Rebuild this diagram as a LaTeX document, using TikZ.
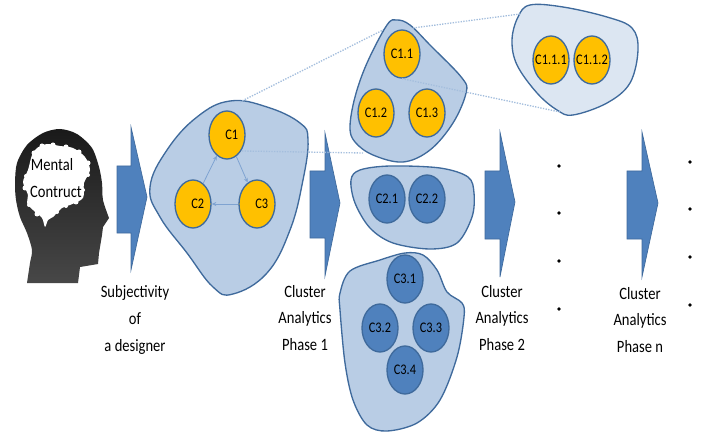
\documentclass[tikz,border=0pt]{standalone}
\usepackage{fontspec}
\setmainfont[FakeStretch=.84]{Carlito}
\usetikzlibrary{shapes.geometric,arrows.meta}
\definecolor{blobfill}{HTML}{B9CDE5}
\definecolor{blobpale}{HTML}{DCE6F2}
\definecolor{edgecol}{HTML}{3F6A9C}
\definecolor{steel}{HTML}{4F81BD}
\definecolor{amber}{HTML}{FFC000}
\definecolor{relcol}{HTML}{7FA3D1}
\definecolor{tiecol}{HTML}{A4BEDD}
\newcommand{\ct}[1]{\makebox[0pt]{#1}}
\newcommand{\cs}[1]{\makebox[0pt]{\hspace{7pt}\raisebox{-2pt}{#1}}}
\tikzset{
  blob/.style={draw=edgecol,line width=1pt,fill=blobfill},
  paleblob/.style={blob,fill=blobpale},
  gold/.style={ellipse,draw=edgecol,line width=1pt,fill=amber,minimum width=27pt,minimum height=36pt,inner sep=0pt,font=\fontsize{11}{12}\selectfont},
  deep/.style={gold,fill=steel},
  bigarrow/.style={fill=steel,draw=edgecol,line width=.5pt},
  tie/.style={draw=tiecol,line width=1pt,densely dotted},
  rel/.style={draw=relcol,line width=.6pt,-{Stealth[length=3.5pt,width=3pt]}},
  lab/.style={align=center,inner sep=0pt,font=\fontsize{13}{20}\selectfont},
  dot/.style={circle,fill=black,inner sep=0pt,minimum size=2.8pt}
}
\begin{document}
\begin{tikzpicture}[x=.75pt,y=-.75pt]
\useasboundingbox (0,0) rectangle (709,438);
% head
\shade[top color=black!90,bottom color=black!72,shading angle=0]
 plot[smooth,tension=.5] coordinates {(27,283)(30,263)(32,250)(27,233)(20,217)(16,200)(15,183)(17,163)(27,145)(43,133)(60,129)(77,134)(92,148)(99,167)(102,183)(103,200)(109,218)}
 -- (103,227) -- (102,235) -- (99,253) -- (98,264) -- (80,267) -- (78,283) -- cycle;
\fill[white] plot[smooth cycle,tension=.5] coordinates {(32,155)(37,148)(47,144)(60,146)(73,148)(85,157)(90,170)(84,183)(83,198)(70,205)(62,208)(53,217)(48,220)(45,227)(42,218)(33,210)(27,203)(28,195)(23,182)(28,170)};
\foreach \a/\b/\r in {34/153/2.5,42/146/2.5,53/145/2.5,66/147/2.5,79/152/2.5,88/163/2.5,88/175/2,83/190/2,76/202/2.5,66/206/2,57/212/2,37/214/2.5,29/205/2,25/188/2.5,26/176/2}{
  \fill[white] (\a,\b) circle[radius=\r*.75pt];
}
\node[lab,anchor=center] (m1) at (52,165) {Mental};
\node[lab,anchor=center] (m2) at (56,192) {Contruct};
% arrows
\draw[bigarrow] (117,166) -- (131,166) -- (131,127) -- (147,197) -- (131,270) -- (131,233) -- (117,233) -- cycle;
% main blob
\draw[blob] plot[smooth cycle,tension=.7] coordinates {(150,187)(167,150)(197,117)(230,101)(267,107)(300,123)(308,140)(303,180)(290,230)(267,273)(233,294)(213,287)(187,253)(160,217)};
\draw[bigarrow] (310,171) -- (325,171) -- (325,133) -- (340,203) -- (325,276) -- (325,238) -- (310,238) -- cycle;
\draw[bigarrow] (485,171) -- (500,171) -- (500,132) -- (515,202) -- (500,277) -- (500,239) -- (485,239) -- cycle;
\draw[bigarrow] (627,171) -- (642,171) -- (642,132) -- (658,203) -- (642,277) -- (642,239) -- (627,239) -- cycle;
\node[gold] (c1) at (227,135) {\cs{C1}};
\node[gold] (c2) at (193,204) {\cs{C2}};
\node[gold] (c3) at (257,204) {\cs{C3}};
\draw[rel] (c2) -- (c1);
\draw[rel] (c1) -- (c3);
\draw[rel] (c3) -- (c2);
% group ties
\coordinate (g1l) at (363,153);
\coordinate (g1t) at (387,28);
\coordinate (g2t) at (520,14);
\coordinate (g2b) at (560,112);
\coordinate (c1up) at (240,102);
\coordinate (c1rt) at (242,151);
\draw[tie] (c1up) -- (g1t);
\draw[tie] (c1rt) -- (g1l);
% group C1
\draw[blob] plot[smooth cycle,tension=.6] coordinates {(397,20)(410,25)(430,45)(462,78)(466,93)(453,123)(430,150)(403,162)(373,155)(355,142)(350,127)(355,97)(367,63)(387,25)};
\draw[paleblob] plot[smooth cycle,tension=.6] coordinates {(530,5)(563,7)(607,17)(632,28)(638,50)(630,83)(607,103)(573,115)(557,110)(537,93)(517,65)(512,40)(518,17)};
\node[gold] (c11) at (402,54) {\ct{C1.1}};
\node[gold] (c12) at (376,113) {\ct{C1.2}};
\node[gold] (c13) at (427,113) {\ct{C1.3}};
\node[gold] (c111) at (551,60) {\ct{C1.1.1}};
\node[gold] (c112) at (592,60) {\ct{C1.1.2}};
\coordinate (g1t2) at (413,28);
\draw[tie] (g1t2) -- (g2t);
\draw[tie] (c11.south) -- (g2b);
% group C2
\draw[blob] plot[smooth cycle,tension=.55] coordinates {(351,180)(360,170)(390,166)(440,168)(468,177)(474,193)(472,217)(457,243)(430,249)(393,243)(370,228)(355,203)};
\node[deep] (c21) at (387,199) {\ct{C2.1}};
\node[deep] (c22) at (427,199) {\ct{C2.2}};
% group C3
\draw[blob] plot[smooth cycle,tension=.55] coordinates {(350,271)(380,260)(405,253)(423,255)(437,270)(447,292)(462,303)(464,317)(457,357)(440,400)(417,423)(387,431)(367,425)(353,400)(345,363)(340,310)(340,293)};
\node[deep] (c31) at (405,279) {\ct{C3.1}};
\node[deep] (c32) at (380,328) {\ct{C3.2}};
\node[deep] (c33) at (431,328) {\ct{C3.3}};
\node[deep] (c34) at (405,370) {\ct{C3.4}};
% dots
\foreach \n/\y in {a/166,b/213,c/261,d/309}{\node[dot] (l\n) at (559,\y) {};}
\foreach \n/\y in {a/162,b/209,c/257,d/305}{\node[dot] (r\n) at (690,\y) {};}
% labels
\node[lab] (t0) at (135,320) {Subjectivity\\of\\a designer};
\node[lab] (t1) at (305,318) {Cluster\\Analytics\\Phase 1};
\node[lab] (t2) at (502,318) {Cluster\\Analytics\\Phase 2};
\node[lab] (t3) at (640,320) {Cluster\\Analytics\\Phase n};
\end{tikzpicture}
\end{document}
